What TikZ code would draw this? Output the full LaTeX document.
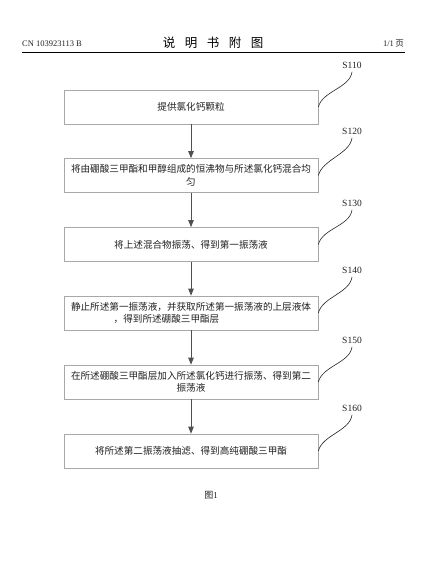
\documentclass[tikz,border=0pt]{standalone}
\usepackage{fontspec}
\setmainfont{Liberation Serif}
\newfontfamily\cjk{Noto Sans CJK SC}
\usetikzlibrary{arrows.meta}
\definecolor{boxline}{HTML}{A8A8A8}
\definecolor{arrowc}{HTML}{505050}
\definecolor{txt}{HTML}{222222}
\tikzset{
  stepbox/.style={draw=boxline, line width=0.7pt, minimum width=254pt, minimum height=34pt,
    inner sep=0pt, align=center, text=txt, font=\cjk\fontsize{9.6}{12.5}\selectfont},
  steplabel/.style={inner sep=0pt, text=txt, font=\fontsize{9.5}{11}\selectfont},
  flow/.style={draw=arrowc, line width=0.8pt, -{Triangle[width=5.5pt,length=7pt]}},
  leader/.style={draw=black!85, line width=0.6pt},
}
\begin{document}
\begin{tikzpicture}[x=1pt,y=-1pt]
\useasboundingbox[fill=white] (0,0) rectangle (432,573);
% header
\node[anchor=west, inner sep=0pt, text=txt, font=\fontsize{8.5}{10}\selectfont] (hdl) at (22,44) {CN 103923113 B};
\node[inner sep=0pt, text=black, font=\cjk\fontsize{12.5}{14}\selectfont] (hdt) at (213,43) {说\hspace{9.5pt}明\hspace{9.5pt}书\hspace{9.5pt}附\hspace{9.5pt}图};
\node[anchor=east, inner sep=0pt, text=txt, font=\fontsize{8.5}{10}\selectfont] (hdr) at (404,44) {1/1\,{\cjk 页}};
\coordinate (rl) at (22,52);
\coordinate (rr) at (405,52);
\draw[line width=1pt] (rl) -- (rr);
% boxes
\node[stepbox] (b1) at (191,107) {提供氯化钙颗粒};
\node[stepbox] (b2) at (191,175.5) {将由硼酸三甲酯和甲醇组成的恒沸物与所述氯化钙混合均\\匀};
\node[stepbox] (b3) at (191,244.5) {将上述混合物振荡、得到第一振荡液};
\node[stepbox] (b4) at (191,313) {静止所述第一振荡液，并获取所述第一振荡液的上层液体\\，得到所述硼酸三甲酯层\hspace*{49pt}};
\node[stepbox] (b5) at (191,382) {在所述硼酸三甲酯层加入所述氯化钙进行振荡、得到第二\\振荡液};
\node[stepbox] (b6) at (191,451) {将所述第二振荡液抽滤、得到高纯硼酸三甲酯};
% arrows
\draw[flow] (b1.south) -- (b2.north);
\draw[flow] (b2.south) -- (b3.north);
\draw[flow] (b3.south) -- (b4.north);
\draw[flow] (b4.south) -- (b5.north);
\draw[flow] (b5.south) -- (b6.north);
% labels and leaders
\foreach \i/\ly in {1/65,2/131,3/203,4/270,5/340,6/408}{
  \node[steplabel] (s\i) at (352,\ly) {S1\i0};
  \coordinate (e\i) at ([yshift=-3.5pt]s\i.south);
  \draw[leader] (b\i.east) .. controls ([shift={(4,-16)}]b\i.east) and ([shift={(-2,16)}]e\i) .. (e\i);
}
% caption
\node[inner sep=0pt, text=txt, font=\fontsize{9}{11}\selectfont] (cap) at (211,495) {{\cjk 图}1};
\end{tikzpicture}
\end{document}
